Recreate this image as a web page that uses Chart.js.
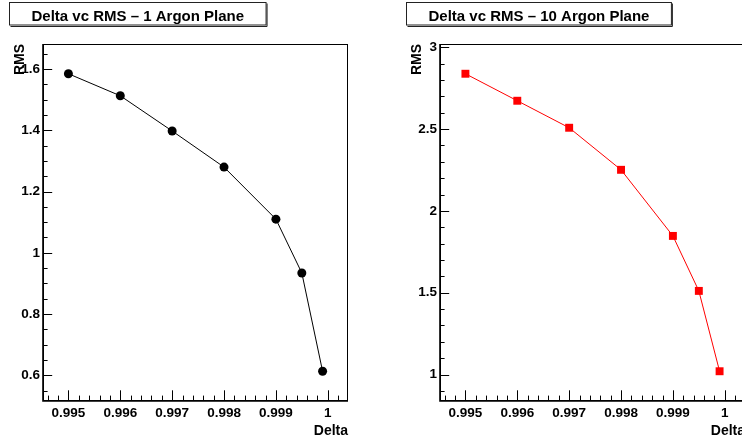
<!DOCTYPE html>
<html><head><meta charset="utf-8">
<script src="https://cdn.jsdelivr.net/npm/chart.js@4.4.1/dist/chart.umd.min.js"></script>
<style>
html,body{margin:0;padding:0;background:#fff;overflow:hidden}
#wrap{position:relative;width:742px;height:440px;overflow:hidden;background:#fff}
canvas{position:absolute;top:0}
</style></head><body>
<div id="wrap">
<canvas id="c1" width="397" height="440" style="left:0px"></canvas>
<canvas id="c2" width="397" height="440" style="left:397px"></canvas>
</div>
<script>
// ---- data ----
const delta = [0.995, 0.996, 0.997, 0.998, 0.999, 0.9995, 0.9999];
const rmsOnePlane = [1.585, 1.513, 1.398, 1.280, 1.110, 0.934, 0.613];
const rmsTenPlane = [2.838, 2.673, 2.508, 2.251, 1.847, 1.511, 1.020];
const xTickValues = [0.995, 0.996, 0.997, 0.998, 0.999, 1];
const yTicksOne = [0.6, 0.8, 1, 1.2, 1.4, 1.6];
const yTicksTen = [1, 1.5, 2, 2.5, 3];
const panelTitles = ['Delta vc RMS \u2013 1 Argon Plane', 'Delta vc RMS \u2013 10 Argon Plane'];
const xTitle = 'Delta';
const yTitle = 'RMS';

const FONT = "'Liberation Sans', Arial, Helvetica, sans-serif";
Chart.defaults.font.family = FONT;
Chart.defaults.color = '#000';

function rootRange(arr) {
  const mn = Math.min(...arr), mx = Math.max(...arr), d = mx - mn;
  return [mn - 0.1 * d, mx + 0.1 * d];
}

const framePlugin = {
  id: 'rootFrame',
  beforeDatasetsDraw(chart, args, o) {
    const ctx = chart.ctx, a = chart.chartArea;
    const xs = chart.scales.x, ys = chart.scales.y;
    ctx.save();
    ctx.strokeStyle = '#000';
    ctx.lineWidth = 1;
    ctx.strokeRect(a.left + 0.5, a.top + 0.5, a.right - a.left - 1, a.bottom - a.top - 1);
    ctx.lineWidth = 1.6;
    ctx.beginPath();
    ctx.moveTo(a.left, a.top); ctx.lineTo(a.left, a.bottom); ctx.lineTo(a.right, a.bottom);
    ctx.stroke();
    ctx.lineWidth = 1;
    // x ticks
    const drawTicks = (scale, minor, major, lenMaj, lenMin, horiz) => {
      const k0 = Math.ceil(scale.min / minor - 1e-6), k1 = Math.floor(scale.max / minor + 1e-6);
      ctx.beginPath();
      for (let k = k0; k <= k1; k++) {
        const v = k * minor;
        const r = v / major;
        const isMaj = Math.abs(r - Math.round(r)) < 1e-4;
        const L = isMaj ? lenMaj : lenMin;
        const p = Math.round(scale.getPixelForValue(v)) + 0.5;
        if (horiz) { ctx.moveTo(p, a.bottom); ctx.lineTo(p, a.bottom - L); }
        else { ctx.moveTo(a.left, p); ctx.lineTo(a.left + L, p); }
      }
      ctx.stroke();
    };
    drawTicks(xs, o.xMinor, o.xMajor, 10.7, 5.4, true);
    drawTicks(ys, o.yMinor, o.yMajor, 9.2, 4.6, false);
    ctx.restore();
  },
  afterDraw(chart, args, o) {
    const ctx = chart.ctx;
    ctx.save();
    ctx.font = 'bold 15px ' + FONT;
    const tw = ctx.measureText(o.title).width;
    const bx = 9, by = 2.5, bw = tw + 44, bh = 22.5;
    ctx.fillStyle = '#fff';
    ctx.fillRect(bx, by, bw, bh);
    ctx.strokeStyle = '#222';
    ctx.lineWidth = 1;
    ctx.strokeRect(bx + 0.5, by, bw, bh);
    ctx.beginPath();
    ctx.moveTo(bx + bw + 1.5, by + 1); ctx.lineTo(bx + bw + 1.5, by + bh + 1.5); ctx.lineTo(bx + 1.5, by + bh + 1.5);
    ctx.stroke();
    ctx.fillStyle = '#000';
    ctx.textAlign = 'center';
    ctx.textBaseline = 'alphabetic';
    ctx.fillText(o.title, bx + bw / 2 + 0.5, 20.5);
    ctx.restore();
  }
};

function makeChart(id, values, yTicks, title, color, pStyle, pRadius, yMinor, yMajor) {
  const [xmin, xmax] = rootRange(delta);
  const [ymin, ymax] = rootRange(values);
  return new Chart(document.getElementById(id), {
    type: 'line',
    data: {
      datasets: [{
        data: delta.map((x, i) => ({ x: x, y: values[i] })),
        borderColor: color,
        borderWidth: 1,
        pointStyle: pStyle,
        pointRadius: pRadius,
        pointBackgroundColor: color,
        pointBorderWidth: 0,
        tension: 0,
        fill: false
      }]
    },
    options: {
      responsive: false,
      animation: false,
      devicePixelRatio: 1,
      events: [],
      layout: { padding: { top: 44, right: 49, left: 0, bottom: 0 } },
      plugins: {
        legend: { display: false },
        title: { display: false },
        tooltip: { enabled: false },
        rootFrame: { title: title, xMinor: 0.0002, xMajor: 0.001, yMinor: yMinor, yMajor: yMajor }
      },
      scales: {
        x: {
          type: 'linear', min: xmin, max: xmax,
          grid: { display: false, drawTicks: false },
          border: { display: false },
          afterBuildTicks: s => { s.ticks = xTickValues.map(v => ({ value: v })); },
          afterFit: s => { s.height = 39; },
          ticks: { color: '#000', font: { size: 13.5, weight: 'bold' }, padding: 4, maxRotation: 0, autoSkip: false, callback: v => String(v) },
          title: { display: true, text: xTitle, align: 'end', color: '#000', font: { size: 14, weight: 'bold' }, padding: { top: 0, bottom: 0.5 } }
        },
        y: {
          type: 'linear', min: ymin, max: ymax,
          grid: { display: false, drawTicks: false },
          border: { display: false },
          afterBuildTicks: s => { s.ticks = yTicks.map(v => ({ value: v })); },
          afterFit: s => { s.width = 43; },
          ticks: { color: '#000', font: { size: 13.5, weight: 'bold' }, padding: 3, autoSkip: false, callback: v => String(v) },
          title: { display: true, text: yTitle, align: 'end', color: '#000', font: { size: 14, weight: 'bold' }, padding: { top: 11.5, bottom: 0 } }
        }
      }
    },
    plugins: [framePlugin]
  });
}

makeChart('c1', rmsOnePlane, yTicksOne, panelTitles[0], '#000000', 'circle', 4.5, 0.05, 0.2);
makeChart('c2', rmsTenPlane, yTicksTen, panelTitles[1], '#ff0000', 'rect', 5.6, 0.1, 0.5);
</script>
</body></html>
